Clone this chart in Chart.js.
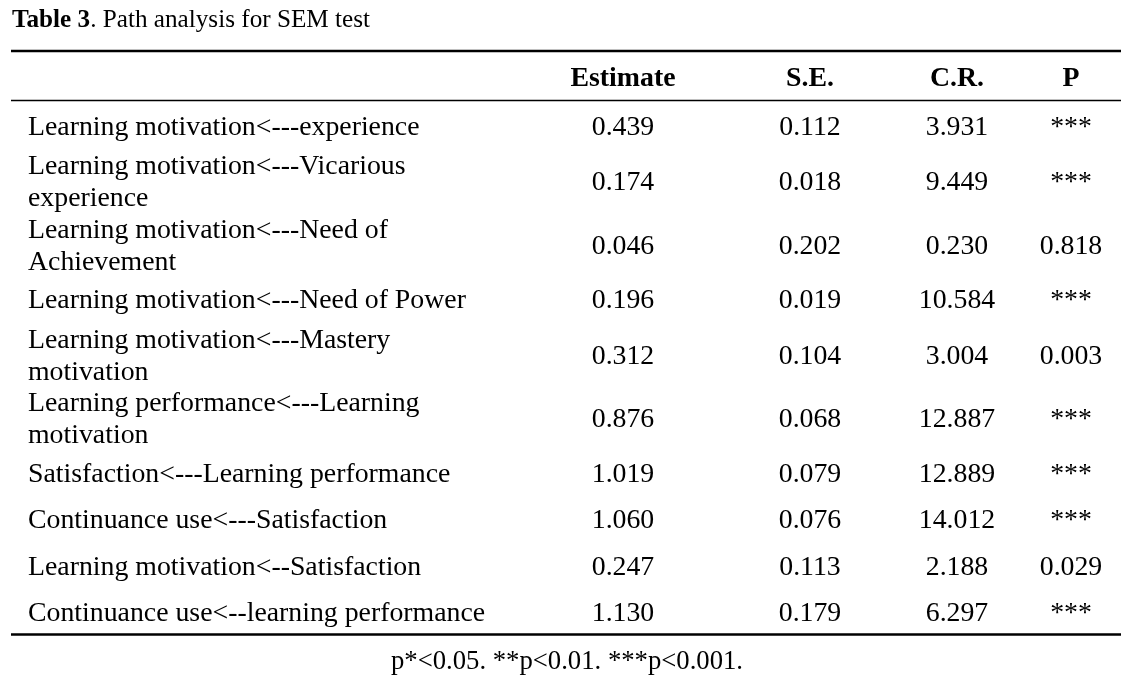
<!DOCTYPE html>
<html>
<head>
    <title>Path analysis for SEM test</title>
    <script src="https://cdn.jsdelivr.net/npm/chart.js"></script>
    <style>
        body { margin: 0; background: #fff; }
        #wrap { width: 1140px; height: 679px; }
    </style>
</head>
<body>
    <div id="wrap">
        <canvas id="tableChart" width="1140" height="679"></canvas>
    </div>

    <script>
        // table content
        const columnHeaders = ['Estimate', 'S.E.', 'C.R.', 'P'];
        const pathLabels = [
            ['Learning motivation<---experience'],
            ['Learning motivation<---Vicarious', 'experience'],
            ['Learning motivation<---Need of', 'Achievement'],
            ['Learning motivation<---Need of Power'],
            ['Learning motivation<---Mastery', 'motivation'],
            ['Learning performance<---Learning', 'motivation'],
            ['Satisfaction<---Learning performance'],
            ['Continuance use<---Satisfaction'],
            ['Learning motivation<--Satisfaction'],
            ['Continuance use<--learning performance']
        ];
        const estimates = [0.439, 0.174, 0.046, 0.196, 0.312, 0.876, 1.019, 1.060, 0.247, 1.130];
        const standardErrors = [0.112, 0.018, 0.202, 0.019, 0.104, 0.068, 0.079, 0.076, 0.113, 0.179];
        const criticalRatios = [3.931, 9.449, 0.230, 10.584, 3.004, 12.887, 12.889, 14.012, 2.188, 6.297];
        const pValues = ['***', '***', '0.818', '***', '0.003', '***', '***', '***', '0.029', '***'];
        const titleBold = 'Table 3';
        const titleRest = '. Path analysis for SEM test';
        const footnote = 'p*<0.05. **p<0.01. ***p<0.001.';

        // layout (in scale units = pixels)
        const labelX = 28;
        const columnX = [623, 810, 957, 1071];
        const headerY = 77;
        const rowY = [126, 181, 245, 299, 355, 418, 473, 519, 566, 612];
        const lineGap = 32;
        const rules = [
            { y: 51, w: 2.5 },
            { y: 100.5, w: 1.5 },
            { y: 634.5, w: 2.5 }
        ];

        const serif = '"Liberation Serif", "Times New Roman", serif';
        const bodySize = 27.8;

        const tablePlugin = {
            id: 'tablePlugin',
            afterDraw(chart) {
                const ctx = chart.ctx;
                const xs = chart.scales.x;
                const ys = chart.scales.y;
                const px = v => xs.getPixelForValue(v);
                const py = v => ys.getPixelForValue(v);
                const capHalf = bodySize * 0.33;

                ctx.save();
                ctx.fillStyle = '#000';
                ctx.strokeStyle = '#000';
                ctx.textBaseline = 'alphabetic';

                // title
                ctx.textAlign = 'left';
                ctx.font = 'bold 25.2px ' + serif;
                ctx.fillText(titleBold, px(12), py(27));
                const bw = ctx.measureText(titleBold).width;
                ctx.font = '25.2px ' + serif;
                ctx.fillText(titleRest, px(12) + bw, py(27));

                // rules
                rules.forEach(r => {
                    ctx.lineWidth = r.w;
                    ctx.beginPath();
                    ctx.moveTo(px(11), py(r.y));
                    ctx.lineTo(px(1121), py(r.y));
                    ctx.stroke();
                });

                // header
                ctx.textAlign = 'center';
                ctx.font = 'bold ' + bodySize + 'px ' + serif;
                columnHeaders.forEach((h, i) => {
                    ctx.fillText(h, px(columnX[i]), py(headerY + capHalf));
                });

                // rows
                ctx.font = bodySize + 'px ' + serif;
                rowY.forEach((y, r) => {
                    const lines = pathLabels[r];
                    const first = y - (lines.length - 1) * lineGap / 2;
                    ctx.textAlign = 'left';
                    lines.forEach((t, k) => {
                        ctx.fillText(t, px(labelX), py(first + k * lineGap + capHalf));
                    });
                    ctx.textAlign = 'center';
                    const cells = [
                        estimates[r].toFixed(3),
                        standardErrors[r].toFixed(3),
                        criticalRatios[r].toFixed(3),
                        pValues[r]
                    ];
                    cells.forEach((c, i) => {
                        ctx.fillText(c, px(columnX[i]), py(y + capHalf));
                    });
                });

                // footnote
                ctx.font = '26.7px ' + serif;
                ctx.fillText(footnote, px(567), py(669));
                ctx.restore();
            }
        };

        new Chart(document.getElementById('tableChart').getContext('2d'), {
            type: 'scatter',
            data: { datasets: [] },
            options: {
                responsive: false,
                animation: false,
                layout: { padding: 0 },
                scales: {
                    x: { type: 'linear', min: 0, max: 1140, display: false },
                    y: { type: 'linear', min: 0, max: 679, reverse: true, display: false }
                },
                plugins: {
                    legend: { display: false },
                    tooltip: { enabled: false }
                }
            },
            plugins: [tablePlugin]
        });
    </script>
</body>
</html>
